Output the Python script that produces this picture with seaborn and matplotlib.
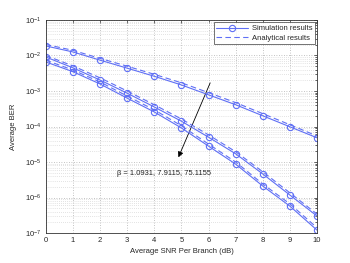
import matplotlib
matplotlib.use("Agg")

import matplotlib.pyplot as plt  # noqa: E402
import numpy as np  # noqa: E402
import pandas as pd  # noqa: E402
import seaborn as sns  # noqa: E402
from matplotlib.patches import FancyArrowPatch  # noqa: E402
from matplotlib.ticker import LogLocator, FixedLocator, NullFormatter  # noqa: E402

sns.set_style("white")
plt.rcParams["font.family"] = ["Liberation Sans", "DejaVu Sans"]
plt.rcParams["font.size"] = 5.5
plt.rcParams["mathtext.fontset"] = "custom"
plt.rcParams["mathtext.rm"] = "Liberation Sans"

# Data
snr = [0, 1, 2, 3, 4, 5, 6, 7, 8, 9, 10]

sim_1 = [1.86e-2, 1.26e-2, 7.4e-3, 4.4e-3, 2.6e-3, 1.48e-3, 7.8e-4, 4.1e-4, 2.0e-4, 9.8e-5, 4.8e-5]
ana_1 = [2.05e-2, 1.40e-2, 8.3e-3, 5.0e-3, 2.95e-3, 1.70e-3, 9.0e-4, 4.7e-4, 2.3e-4, 1.12e-4, 5.4e-5]

sim_2 = [9.1e-3, 4.5e-3, 2.04e-3, 8.7e-4, 3.55e-4, 1.41e-4, 5.0e-5, 1.70e-5, 4.6e-6, 1.17e-6, 3.0e-7]
ana_2 = [1.0e-2, 5.1e-3, 2.35e-3, 1.0e-3, 4.1e-4, 1.63e-4, 5.8e-5, 1.95e-5, 5.3e-6, 1.35e-6, 3.4e-7]

sim_3 = [6.6e-3, 3.5e-3, 1.58e-3, 6.3e-4, 2.57e-4, 9.1e-5, 2.8e-5, 8.7e-6, 2.1e-6, 5.7e-7, 1.2e-7]
ana_3 = [7.4e-3, 3.9e-3, 1.80e-3, 7.2e-4, 2.95e-4, 1.05e-4, 3.2e-5, 1.0e-5, 2.4e-6, 6.6e-7, 1.4e-7]

beta_text = "β = 1.0931, 7.9115, 75.1155"
arrow_start = (6.1, 2.0e-3)
arrow_end = (4.85, 1.15e-5)
text_pos = (4.35, 4.9e-6)

blue = "#5f6ff5"

fig = plt.figure(figsize=(3.5, 2.63), dpi=100)
ax = fig.add_axes([0.1306, 0.114, 0.7754, 0.81])

for i, (s, a) in enumerate([(sim_1, ana_1), (sim_2, ana_2), (sim_3, ana_3)]):
    df = pd.DataFrame({"snr": snr, "sim": s, "ana": a})
    sns.lineplot(data=df, x="snr", y="sim", ax=ax, color=blue, lw=0.8,
                 marker="o", markersize=4.5, markerfacecolor="none",
                 markeredgecolor=blue, markeredgewidth=0.8,
                 label="Simulation results" if i == 0 else None)
    sns.lineplot(data=df, x="snr", y="ana", ax=ax, color=blue, lw=0.8,
                 linestyle=(0, (5, 3)),
                 label="Analytical results" if i == 0 else None)

ax.set_yscale("log")
ax.set_xlim(0, 10)
ax.set_ylim(1e-7, 1e-1)
ax.xaxis.set_major_locator(FixedLocator(range(0, 11)))
ax.yaxis.set_major_locator(LogLocator(base=10, numticks=10))
ax.yaxis.set_minor_locator(LogLocator(base=10, subs=np.arange(2, 10), numticks=20))
ax.yaxis.set_minor_formatter(NullFormatter())

ax.grid(True, which="major", axis="both", color="#b0b0b0", linestyle=(0, (1, 2)), lw=0.6)
ax.grid(True, which="minor", axis="y", color="#c8c8c8", linestyle=(0, (1, 2)), lw=0.5)
ax.tick_params(which="both", direction="in", top=True, right=True, labelsize=5.5,
               length=2.5, width=0.5, pad=3)
ax.tick_params(which="minor", length=1.5)
for sp in ax.spines.values():
    sp.set_color("#333333")
    sp.set_linewidth(0.6)

ax.set_xlabel("Average SNR Per Branch (dB)", fontsize=5.5, labelpad=3)
ax.set_ylabel("Average BER", fontsize=5.5, labelpad=6)

arrow = FancyArrowPatch(arrow_start, arrow_end, arrowstyle="-|>", color="black",
                        lw=0.6, mutation_scale=8, transform=ax.transData)
ax.add_patch(arrow)
ax.text(text_pos[0], text_pos[1], beta_text, fontsize=5.4, ha="center", va="center",
        color="#222222")

leg = ax.legend(loc="upper right", fontsize=5.5, frameon=True, fancybox=False,
                borderpad=0.35, handlelength=4.2, labelspacing=0.25, borderaxespad=0.3,
                handletextpad=0.4)
leg.get_frame().set_edgecolor("#333333")
leg.get_frame().set_linewidth(0.6)

fig.savefig("out.png", dpi=100)
